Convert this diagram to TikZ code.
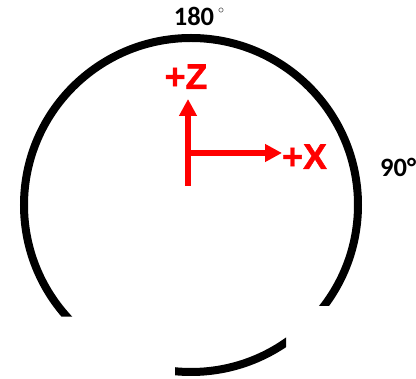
\documentclass[tikz,border=0pt]{standalone}
\usepackage{fontspec}
\newfontfamily\axisfont[FakeBold=1.2]{Liberation Sans Bold}
\newfontfamily\calfont{Carlito}
\usetikzlibrary{arrows.meta}
\definecolor{axisred}{RGB}{255,0,0}
\tikzset{
  ring/.style={line width=8pt, draw=black},
  axis/.style={draw=axisred, line width=5.5pt, -{Triangle[length=17pt,width=17pt]}},
  axislabel/.style={text=axisred, inner sep=0pt, font=\axisfont\fontsize{36}{40}\selectfont},
  anglelabel/.style={text=black, inner sep=0pt, font=\calfont\fontsize{26.5}{28}\selectfont\bfseries}
}
\begin{document}
\begin{tikzpicture}[x=1pt,y=-1pt]
\useasboundingbox (0,0) rectangle (416,379);
\begin{scope}
  \clip (0,0) -- (416,0) -- (416,306) -- (286,306) -- (286,379) -- (175,379) -- (175,316.7) -- (0,316.7) -- cycle;
  \draw[ring] (191,205) circle[radius=167];
\end{scope}
\node[anglelabel, anchor=base] (t180) at (194,26) {180};
\node[inner sep=0pt, font=\large] (deg) at (221,10.5) {$\circ$};
\node[anglelabel, anchor=base west] (t90) at (380,177) {90°};
\coordinate (zbot) at (188,186);
\coordinate (o) at (188,153);
\coordinate (ztip) at (188,99);
\coordinate (xtip) at (282,153);
\draw[axis] (zbot) -- (ztip);
\draw[axis] (o) -- (xtip);
\node[axislabel, anchor=base] (zl) at (186,89) {+Z};
\node[axislabel, anchor=base] (xl) at (304.5,169) {+X};
\end{tikzpicture}
\end{document}
